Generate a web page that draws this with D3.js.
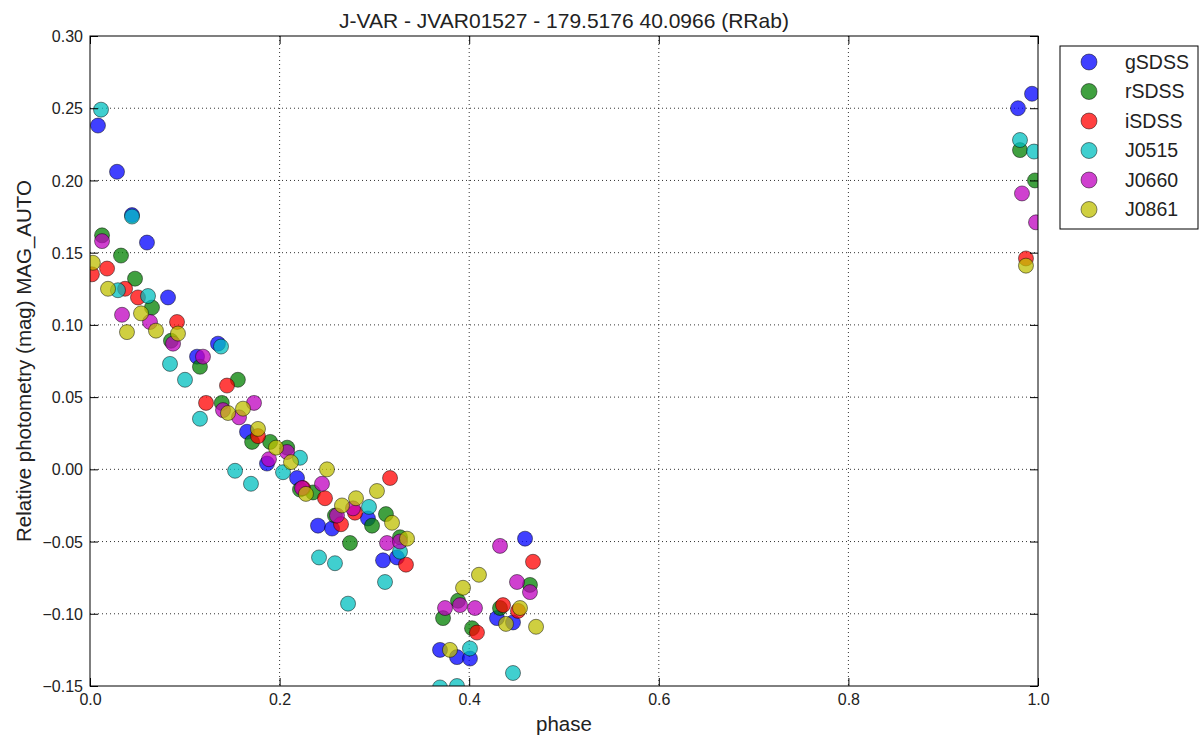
<!DOCTYPE html>
<html>
<head>
<meta charset="utf-8">
<script src="https://cdn.jsdelivr.net/npm/d3@7"></script>
<style>
  body { margin: 0; background: #fff; }
  text { font-family: "Liberation Sans", Arial, sans-serif; fill: #222; }
</style>
</head>
<body>
<div id="chart"></div>
<script>
// phase / relative magnitude pairs
const gSDSS = [
  [0.0084, 0.238], [0.0285, 0.206], [0.0443, 0.176], [0.0601, 0.157], [0.0823, 0.119],
  [0.1129, 0.078], [0.135, 0.087], [0.1656, 0.026], [0.1867, 0.004], [0.2184, -0.006],
  [0.2405, -0.039], [0.2553, -0.041], [0.2932, -0.034], [0.3091, -0.063], [0.3238, -0.061],
  [0.3692, -0.125], [0.3871, -0.130], [0.4008, -0.131], [0.4293, -0.103], [0.4462, -0.106],
  [0.4589, -0.048], [0.9789, 0.250], [0.9937, 0.260]
];
const rSDSS = [
  [0.0127, 0.162], [0.0327, 0.148], [0.0475, 0.132], [0.0654, 0.112], [0.0854, 0.089],
  [0.116, 0.071], [0.156, 0.062], [0.139, 0.046], [0.171, 0.019], [0.190, 0.019],
  [0.208, 0.015], [0.2215, -0.014], [0.2352, -0.016], [0.2584, -0.032], [0.2743, -0.051],
  [0.2975, -0.039], [0.3122, -0.031], [0.327, -0.047], [0.3724, -0.103], [0.3882, -0.091],
  [0.403, -0.110], [0.4325, -0.096], [0.4641, -0.080], [0.981, 0.221], [0.9968, 0.200]
];
const iSDSS = [
  [0.002, 0.135], [0.018, 0.139], [0.037, 0.125], [0.0506, 0.119], [0.0918, 0.102],
  [0.1224, 0.046], [0.1445, 0.058], [0.1772, 0.023], [0.2247, -0.013], [0.2479, -0.020],
  [0.2648, -0.038], [0.2795, -0.030], [0.3165, -0.006], [0.3333, -0.066], [0.4082, -0.113],
  [0.4357, -0.094], [0.4515, -0.098], [0.4673, -0.064], [0.9873, 0.146]
];
const J0515 = [
  [0.0116, 0.249], [0.0443, 0.175], [0.0295, 0.124], [0.0612, 0.120], [0.0844, 0.073],
  [0.1002, 0.062], [0.1382, 0.085], [0.116, 0.035], [0.153, -0.001], [0.1698, -0.010],
  [0.2036, -0.002], [0.2215, 0.008], [0.2416, -0.061], [0.2584, -0.065], [0.2722, -0.093],
  [0.2943, -0.026], [0.3112, -0.078], [0.327, -0.057], [0.4008, -0.124], [0.3692, -0.151],
  [0.3871, -0.150], [0.4462, -0.141], [0.981, 0.228], [0.9958, 0.220]
];
const J0660 = [
  [0.0127, 0.158], [0.0338, 0.107], [0.0633, 0.102], [0.0876, 0.087], [0.1192, 0.078],
  [0.1403, 0.041], [0.1572, 0.036], [0.173, 0.046], [0.1888, 0.007], [0.2078, 0.012],
  [0.2236, -0.013], [0.2447, -0.010], [0.2605, -0.032], [0.2774, -0.027], [0.3133, -0.051],
  [0.327, -0.050], [0.3745, -0.096], [0.3903, -0.094], [0.4061, -0.096], [0.4325, -0.053],
  [0.4504, -0.078], [0.4641, -0.085], [0.9831, 0.191], [0.9979, 0.171]
];
const J0861 = [
  [0.003, 0.143], [0.019, 0.125], [0.039, 0.095], [0.0538, 0.108], [0.0696, 0.096],
  [0.0928, 0.094], [0.1456, 0.039], [0.1614, 0.042], [0.1772, 0.028], [0.1962, 0.015],
  [0.212, 0.005], [0.2278, -0.017], [0.25, 0.000], [0.2658, -0.025], [0.2806, -0.020],
  [0.3027, -0.015], [0.3186, -0.037], [0.3344, -0.048], [0.3797, -0.125], [0.3935, -0.082],
  [0.4103, -0.073], [0.4388, -0.107], [0.4536, -0.096], [0.4705, -0.109], [0.9873, 0.141]
];

const seriesNames = ["gSDSS", "rSDSS", "iSDSS", "J0515", "J0660", "J0861"];
const seriesData = [gSDSS, rSDSS, iSDSS, J0515, J0660, J0861];
const seriesColors = ["#0000ff", "#008000", "#ff0000", "#00bfbf", "#bf00bf", "#bfbf00"];

const xTicks = [0.0, 0.2, 0.4, 0.6, 0.8, 1.0];
const yTicks = [-0.15, -0.10, -0.05, 0.00, 0.05, 0.10, 0.15, 0.20, 0.25, 0.30];

const width = 1204, height = 740;
const margin = { top: 36, right: 166, bottom: 54, left: 90 };
const innerW = width - margin.left - margin.right;
const innerH = height - margin.top - margin.bottom;

const svg = d3.select("#chart").append("svg")
    .attr("width", width)
    .attr("height", height);

const x = d3.scaleLinear().domain([0, 1]).range([0, innerW]);
const y = d3.scaleLinear().domain([-0.15, 0.30]).range([innerH, 0]);

const g = svg.append("g")
    .attr("transform", `translate(${margin.left},${margin.top})`);

svg.append("defs").append("clipPath")
    .attr("id", "plotClip")
    .append("rect")
    .attr("width", innerW)
    .attr("height", innerH);

// dotted grid
g.append("g")
    .selectAll("line")
    .data(xTicks.slice(1, -1))
    .join("line")
    .attr("x1", d => x(d)).attr("x2", d => x(d))
    .attr("y1", 0).attr("y2", innerH)
    .attr("stroke", "#000")
    .attr("stroke-width", 0.8)
    .attr("stroke-dasharray", "1,3");

g.append("g")
    .selectAll("line")
    .data(yTicks.slice(1, -1))
    .join("line")
    .attr("x1", 0).attr("x2", innerW)
    .attr("y1", d => y(d)).attr("y2", d => y(d))
    .attr("stroke", "#000")
    .attr("stroke-width", 0.8)
    .attr("stroke-dasharray", "1,3");

// points
const pts = g.append("g").attr("clip-path", "url(#plotClip)");
seriesData.forEach((data, i) => {
    pts.append("g")
        .selectAll("circle")
        .data(data)
        .join("circle")
        .attr("cx", d => x(d[0]))
        .attr("cy", d => y(d[1]))
        .attr("r", 7.5)
        .attr("fill", seriesColors[i])
        .attr("fill-opacity", 0.75)
        .attr("stroke", "#000")
        .attr("stroke-opacity", 0.6)
        .attr("stroke-width", 0.8);
});

// axes: classic inward ticks on all four sides
const fmtY = v => d3.format(".2f")(v).replace("-", "\u2212");
const xAxis = g.append("g")
    .attr("transform", `translate(0,${innerH})`)
    .call(d3.axisBottom(x).tickValues(xTicks).tickSizeInner(-8).tickSizeOuter(0).tickPadding(14)
        .tickFormat(d3.format(".1f")));
const yAxis = g.append("g")
    .call(d3.axisLeft(y).tickValues(yTicks).tickSizeInner(-8).tickSizeOuter(0).tickPadding(14)
        .tickFormat(fmtY));
g.append("g")
    .call(d3.axisTop(x).tickValues(xTicks).tickSizeInner(-8).tickSizeOuter(0).tickFormat(""));
g.append("g")
    .attr("transform", `translate(${innerW},0)`)
    .call(d3.axisRight(y).tickValues(yTicks).tickSizeInner(-8).tickSizeOuter(0).tickFormat(""));

g.selectAll(".domain").remove();
g.selectAll(".tick text")
    .style("font-size", "16px")
    .style("font-family", "'Liberation Sans', Arial, sans-serif")
    .attr("fill", "#222");
yAxis.selectAll(".tick text").attr("x", -7).attr("dy", "0.35em");
xAxis.selectAll(".tick text").attr("y", 8).attr("dy", "0.71em");

// frame
g.append("rect")
    .attr("width", innerW)
    .attr("height", innerH)
    .attr("fill", "none")
    .attr("stroke", "#000")
    .attr("stroke-width", 1);

// title and labels
svg.append("text")
    .attr("x", margin.left + innerW / 2)
    .attr("y", 28)
    .attr("text-anchor", "middle")
    .style("font-size", "21px")
    .text("J-VAR - JVAR01527 - 179.5176 40.0966 (RRab)");

svg.append("text")
    .attr("x", margin.left + innerW / 2)
    .attr("y", 731)
    .attr("text-anchor", "middle")
    .style("font-size", "20.5px")
    .text("phase");

svg.append("text")
    .attr("transform", `translate(31,${margin.top + innerH / 2}) rotate(-90)`)
    .attr("text-anchor", "middle")
    .style("font-size", "20.5px")
    .text("Relative photometry (mag) MAG_AUTO");

// legend
const legend = svg.append("g").attr("transform", "translate(1060,46)");
legend.append("rect")
    .attr("width", 138)
    .attr("height", 183)
    .attr("fill", "#fff")
    .attr("stroke", "#000")
    .attr("stroke-width", 1);

seriesNames.forEach((name, i) => {
    const row = legend.append("g").attr("transform", `translate(0,${16 + i * 29.5})`);
    row.append("circle")
        .attr("cx", 29)
        .attr("cy", 0)
        .attr("r", 8)
        .attr("fill", seriesColors[i])
        .attr("fill-opacity", 0.75)
        .attr("stroke", "#000")
        .attr("stroke-opacity", 0.6)
        .attr("stroke-width", 0.8);
    row.append("text")
        .attr("x", 65)
        .attr("y", 0)
        .attr("dy", "0.35em")
        .style("font-size", "19.5px")
        .text(name);
});
</script>
</body>
</html>
